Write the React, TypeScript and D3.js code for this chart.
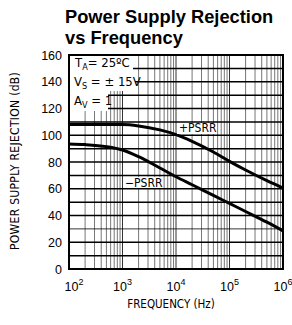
import * as d3 from 'd3'

const W = 292
const H = 325

// curves (frequency Hz, dB)
const freqs = [1e2, 2e2, 5e2, 1e3, 2e3, 5e3, 1e4, 2e4, 5e4, 1e5, 2e5, 5e5, 1e6]
const plusPsrr = [108, 108, 108, 108, 107, 104, 100.5, 95.5, 87.5, 80.5, 74, 66, 60.5]
const minusPsrr = [93.5, 93, 91.5, 89, 84, 75.5, 69, 63, 55, 49, 43, 35, 28.5]

const yTicks = [0, 20, 40, 60, 80, 100, 120, 140, 160]
const yGrid = [10, 20, 30, 40, 50, 60, 70, 80, 90, 100, 110, 120, 130, 140, 150]
const decades = [2, 3, 4, 5, 6]

const cond = "'DejaVu Sans Condensed', 'DejaVu Sans', sans-serif"
const arial = "'Liberation Sans', Arial, sans-serif"

export default function App() {
  const left = 69, right = 283, top = 55, bottom = 269
  const x = d3.scaleLog().domain([1e2, 1e6]).range([left, right])
  const y = d3.scaleLinear().domain([0, 160]).range([bottom, top])

  const minorX: number[] = []
  for (let e = 2; e < 6; e++) for (let m = 2; m <= 9; m++) minorX.push(m * Math.pow(10, e))

  const line = d3.line<number>()
    .x((_, i) => x(freqs[i]))
    .y(d => y(d))
    .curve(d3.curveMonotoneX)

  return (
    <svg width={W} height={H} style={{ position: 'absolute', left: 0, top: 0, background: '#fff' }}>
      <text x={65} y={23} fontFamily={arial} fontWeight="bold" fontSize={18.3}>Power Supply Rejection</text>
      <text x={65} y={44} fontFamily={arial} fontWeight="bold" fontSize={18.3}>vs Frequency</text>

      {/* grid */}
      {minorX.map(f => (
        <line key={f} x1={x(f)} x2={x(f)} y1={top} y2={bottom} stroke="#777" strokeWidth={1} />
      ))}
      {decades.slice(1, -1).map(e => (
        <line key={e} x1={x(Math.pow(10, e))} x2={x(Math.pow(10, e))} y1={top} y2={bottom} stroke="#333" strokeWidth={1} />
      ))}
      {yGrid.map(v => (
        <line key={v} x1={left} x2={right} y1={y(v)} y2={y(v)}
          stroke="#000" strokeWidth={v === 30 ? 0.8 : 1.5} />
      ))}

      {/* condition box */}
      <rect x={70} y={56} width={63} height={17} fill="#fff" />
      <rect x={70} y={73} width={65} height={18} fill="#fff" />
      <rect x={70} y={91} width={38} height={20} fill="#fff" />
      <text fontFamily={cond} fontSize={13} x={75} y={67}>
        T<tspan fontSize={9} dy={3}>A</tspan><tspan dy={-3}>= 25ºC</tspan>
      </text>
      <text fontFamily={cond} fontSize={13} x={74} y={86}>
        V<tspan fontSize={9} dy={3}>S</tspan><tspan dy={-3}> = ± 15V</tspan>
      </text>
      <text fontFamily={cond} fontSize={13} x={74} y={105}>
        A<tspan fontSize={9} dy={3}>V</tspan><tspan dy={-3}> = 1</tspan>
      </text>

      {/* curves */}
      <path d={line(plusPsrr) ?? ''} fill="none" stroke="#000" strokeWidth={3} />
      <path d={line(minusPsrr) ?? ''} fill="none" stroke="#000" strokeWidth={3} />

      <rect x={177} y={123} width={38} height={11} fill="#fff" />
      <text fontFamily={cond} fontSize={12} x={179} y={131.5}>+PSRR</text>
      <rect x={123} y={177} width={40} height={11} fill="#fff" />
      <text fontFamily={cond} fontSize={12} x={125} y={187}>−PSRR</text>

      {/* frame */}
      <rect x={left} y={top} width={right - left} height={bottom - top} fill="none" stroke="#000" strokeWidth={2} />

      {/* y ticks */}
      {yTicks.map(v => (
        <text key={v} x={62} y={y(v) + 4.5} textAnchor="end" fontFamily={arial} fontSize={12.5}>{v}</text>
      ))}

      {/* x ticks */}
      {decades.map(e => (
        <text key={e} x={x(Math.pow(10, e)) + (e === 2 ? 5 : 0)} y={291} textAnchor="middle" fontFamily={arial} fontSize={12.5}>
          10<tspan fontSize={9} dy={-6}>{e}</tspan>
        </text>
      ))}

      <text transform={`translate(19,${(top + bottom) / 2 - 1}) rotate(-90)`} textAnchor="middle"
        fontFamily={cond} fontSize={12} letterSpacing={0.3}>POWER SUPPLY REJECTION (dB)</text>
      <text x={171} y={308} textAnchor="middle" fontFamily={cond} fontSize={11.5}>FREQUENCY (Hz)</text>
    </svg>
  )
}
